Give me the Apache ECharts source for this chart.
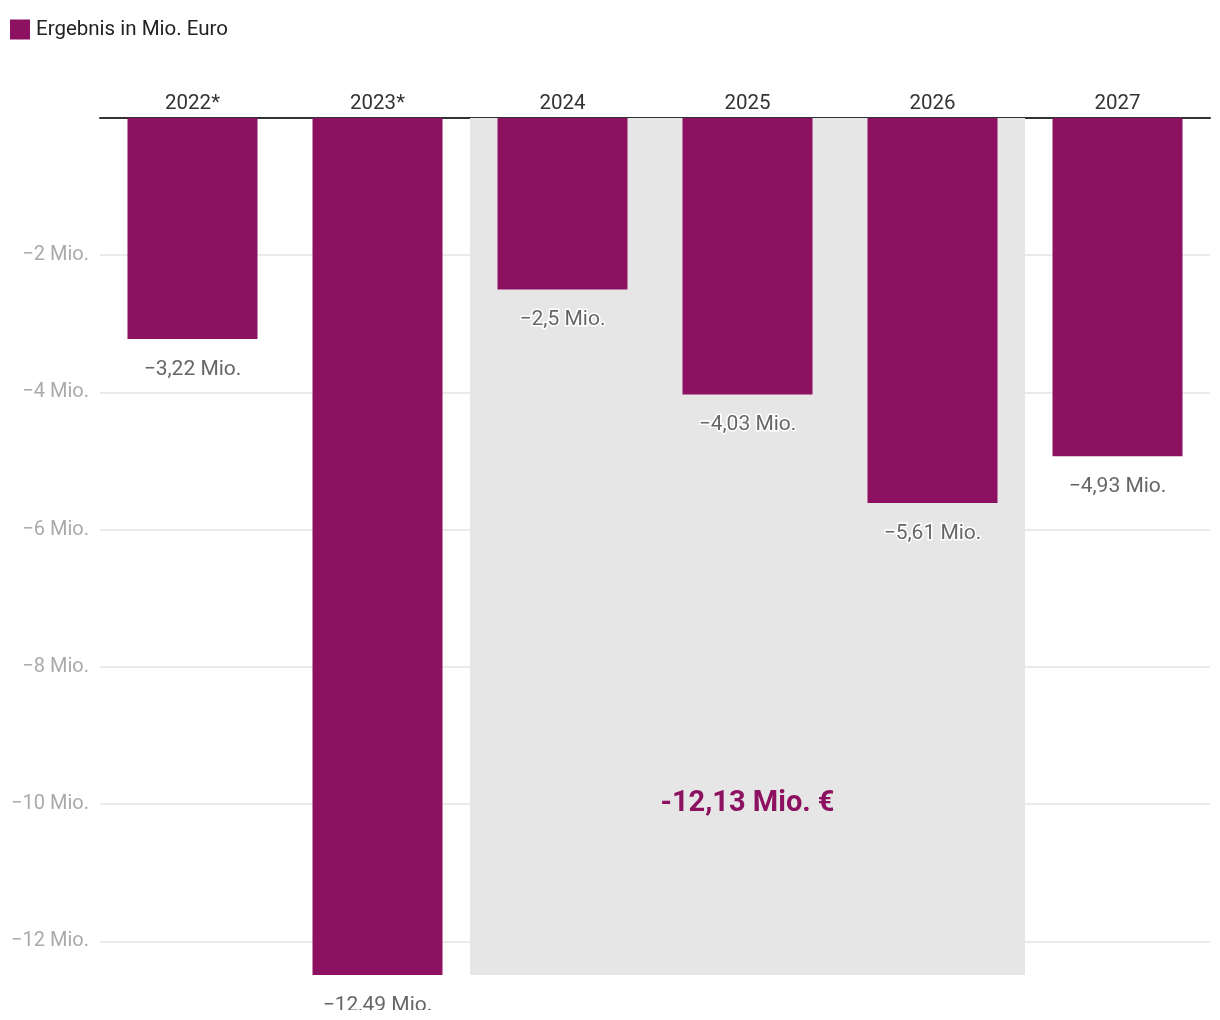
<!DOCTYPE html>
<html>
<head>
<meta charset="utf-8">
<script src="https://cdn.jsdelivr.net/npm/echarts@6/dist/echarts.min.js"></script>
<style>
html,body{margin:0;padding:0;background:#fff;}
#chart{width:1220px;height:1020px;}
</style>
</head>
<body>
<div id="chart"></div>
<script>
// ---- data ----
const categories = ['2022*', '2023*', '2024', '2025', '2026', '2027'];
const results = [-3.22, -12.49, -2.5, -4.03, -5.61, -4.93];
const periodCategories = ['2024', '2025', '2026'];
const periodTotalLabel = '-12,13 Mio. €';
const periodLabelAt = ['2025', -10];
const yTicks = [-2, -4, -6, -8, -10, -12];
const seriesName = 'Ergebnis in Mio. Euro';

const purple = '#8c1160';
const fontFamily = 'Roboto, "Noto Sans", sans-serif';
const axisBottom = Math.min(...results);

function fmt(v) {
  const s = Math.abs(v).toString().replace('.', ',');
  return (v < 0 ? '\u2212' : '') + s + ' Mio.';
}

const shade = categories.map(c => periodCategories.includes(c) ? axisBottom : null);

const chart = echarts.init(document.getElementById('chart'), null, { renderer: 'canvas' });
chart.setOption({
  animation: false,
  textStyle: { fontFamily },
  legend: {
    left: 5, top: 14,
    itemWidth: 20, itemHeight: 20, itemGap: 10,
    icon: 'rect',
    data: [seriesName],
    textStyle: { fontSize: 20.5, color: '#222', fontFamily, padding: [0, 0, 0, 1] }
  },
  grid: { left: 100, top: 118, width: 1110, bottom: 45, containLabel: false },
  xAxis: [{
    type: 'category',
    position: 'top',
    data: categories,
    axisLine: { show: true, onZero: false, lineStyle: { color: '#333', width: 2 } },
    axisTick: { show: false },
    axisLabel: { color: '#333', fontSize: 20.5, margin: 4, fontFamily },
    splitLine: { show: false }
  }, {
    type: 'category',
    position: 'top',
    data: categories,
    show: false
  }],
  yAxis: {
    type: 'value',
    min: axisBottom, max: 0, splitNumber: 6,
    axisLine: { show: false },
    axisTick: { show: false },
    axisLabel: {
      color: '#aaa', fontSize: 20, margin: 11, fontFamily,
      showMinLabel: false,
      formatter: v => yTicks.includes(v) ? fmt(v) : ''
    },
    splitLine: { showMinLine: false, lineStyle: { color: '#e3e3e3', width: 1.5 } }
  },
  series: [{
    type: 'bar',
    name: 'period',
    xAxisIndex: 1,
    data: shade,
    barWidth: '100%',
    itemStyle: { color: '#e6e6e6' },
    silent: true,
    z: 1,
    markPoint: {
      symbol: 'circle', symbolSize: 0,
      data: [{ coord: periodLabelAt }],
      label: {
        show: true, position: 'inside',
        formatter: periodTotalLabel,
        color: purple, fontSize: 29, fontWeight: 'bold', fontFamily
      }
    }
  }, {
    type: 'bar',
    name: seriesName,
    data: results,
    barWidth: 130,
    itemStyle: { color: purple },
    z: 3,
    label: {
      show: true, position: 'bottom', distance: 20,
      formatter: p => fmt(p.value),
      color: '#666', fontSize: 21, fontFamily,
      textBorderColor: '#fff', textBorderWidth: 3
    }
  }],
  graphic: [{
    type: 'rect', left: 0, top: 1010,
    shape: { width: 1220, height: 10 },
    style: { fill: '#fff' }, z: 100
  }]
});
</script>
</body>
</html>
